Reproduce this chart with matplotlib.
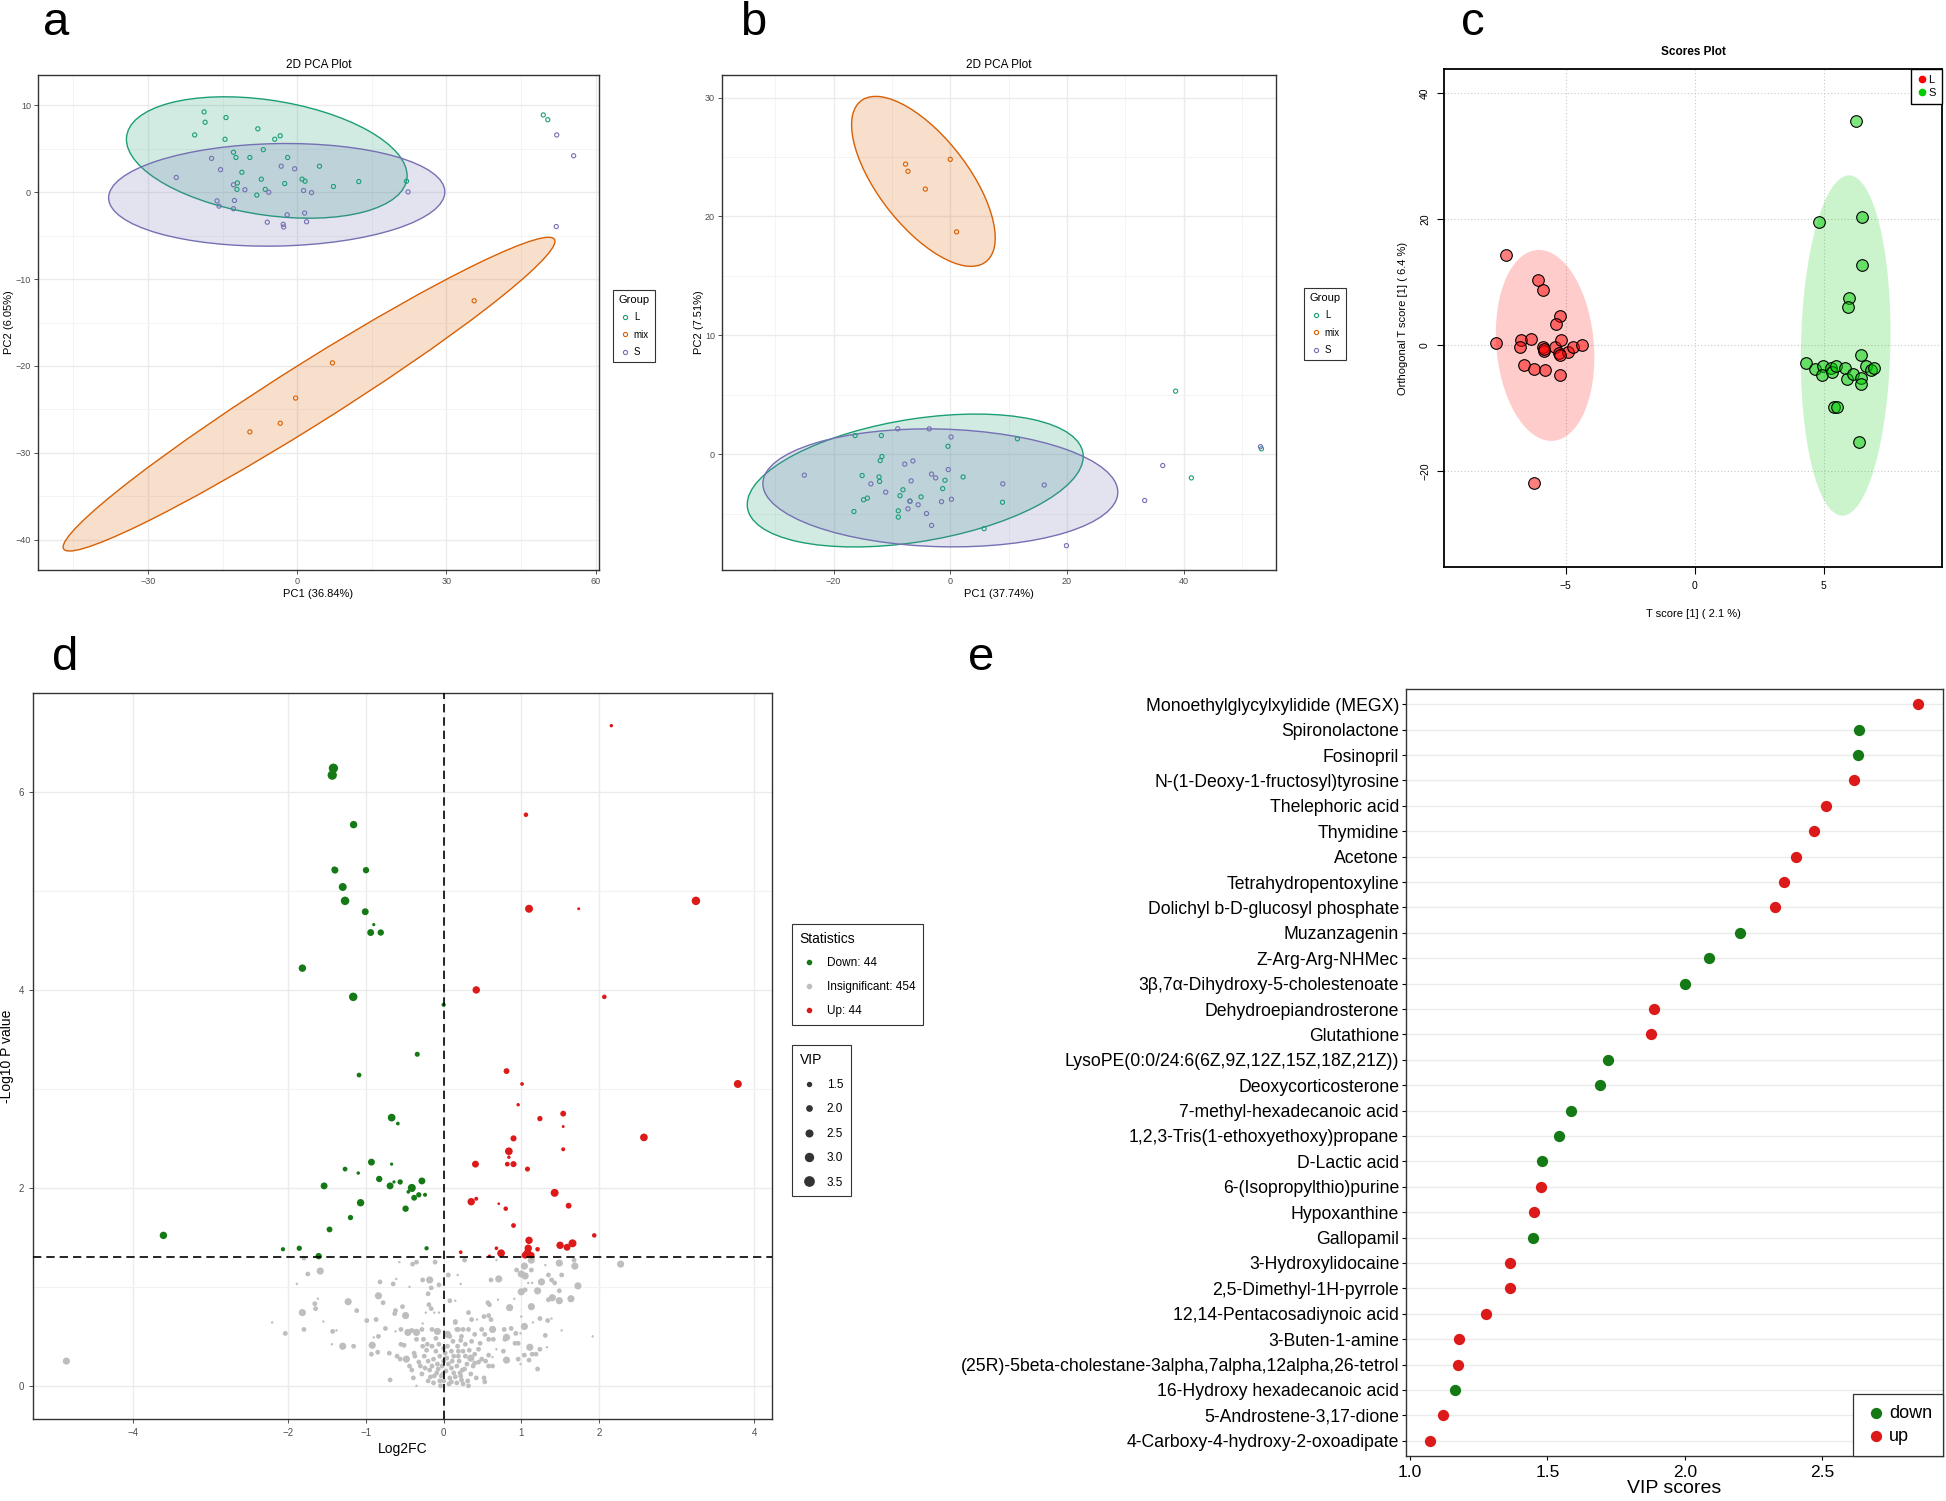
import numpy as np
import matplotlib.pyplot as plt
from matplotlib.patches import Ellipse
from matplotlib.lines import Line2D

plt.rcParams['font.family'] = ['Liberation Sans', 'DejaVu Sans']

W, H = 1946, 1501

# ---------------- data: panel a (PCA, 3 groups) ----------------
a_L_x = [-18.7, -18.5, -14.3, -20.6, -14.5, -7.9, -4.5, -3.4, -6.8, -12.8, -12.3, -9.5, -1.9, -11.1,
         -7.2, -12.0, -12.1, -6.4, -8.1, -2.5, 1.0, 1.6, 4.5, 7.3, 12.4, 22.0, 49.5, 50.4]
a_L_y = [9.25, 8.06, 8.6, 6.6, 6.1, 7.3, 6.1, 6.5, 4.9, 4.6, 4.0, 4.0, 4.0, 2.3,
         1.5, 1.07, 0.33, 0.33, -0.33, 1.0, 1.5, 1.27, 3.0, 0.66, 1.23, 1.27, 8.9, 8.35]
a_S_x = [-24.3, -17.2, -15.4, -12.8, -10.5, -5.7, -3.2, -0.5, 1.3, 2.9, -16.1, -15.7, -12.6, -12.8,
         -2.0, 1.5, -6.0, -2.8, -2.7, 1.9, 22.3, 52.2, 55.6, 52.1]
a_S_y = [1.7, 3.9, 2.6, 0.86, 0.29, 0.0, 3.0, 2.7, 0.2, -0.04, -1.0, -1.6, -0.95, -1.9,
         -2.6, -2.4, -3.45, -3.7, -4.0, -3.4, 0.04, 6.6, 4.2, -3.95]
a_mix_x = [35.6, 7.1, -0.3, -3.4, -9.5]
a_mix_y = [-12.5, -19.65, -23.7, -26.6, -27.6]
# confidence ellipses: centre x, centre y, width, height, angle
a_ell = {'L': (-6.1, 4.0, 56.6, 13.3, -4.5),
         'mix': (2.4, -23.25, 105.0, 7.7, 19.7),
         'S': (-4.1, -0.3, 67.6, 11.8, 0.6)}

# ---------------- data: panel b ----------------
b_L_x = [-16.3, -11.8, -0.4, 11.5, -11.7, -12.0, -15.1, -12.2, -12.1, -0.9, 2.2, -1.3, -8.1, -8.6,
         -5.0, -14.85, -14.2, -6.9, -8.9, -8.9, -16.5, 8.95, 5.8, 38.6, 41.3, 53.3]
b_L_y = [1.56, 1.56, 0.66, 1.29, -0.2, -0.54, -1.8, -1.92, -2.3, -2.2, -1.92, -2.9, -3.0, -3.5,
         -3.6, -3.84, -3.7, -3.96, -4.77, -5.3, -4.83, -4.05, -6.27, 5.3, -2.0, 0.45]
b_S_x = [-9.0, -3.6, 0.14, -25.0, -13.6, -11.05, -7.8, -6.4, -3.2, -2.5, -0.34, -6.7, -6.9, -7.25,
         -5.5, -4.07, -1.5, 0.2, -3.2, 9.0, 16.1, 19.9, 33.3, 36.4, 53.15]
b_S_y = [2.13, 2.13, 1.44, -1.77, -2.5, -3.2, -0.84, -0.57, -1.68, -2.0, -1.3, -2.25, -3.96, -4.6,
         -4.26, -5.0, -4.0, -3.8, -6.0, -2.5, -2.6, -7.7, -3.9, -0.96, 0.63]
b_mix_x = [-7.66, -7.25, 0.0, -4.27, 1.08]
b_mix_y = [24.4, 23.8, 24.8, 22.3, 18.7]
b_ell = {'L': (-6.0, -2.22, 57.7, 10.4, 4.15),
         'mix': (-4.6, 22.95, 26.7, 9.85, -24.7),
         'S': (-1.7, -2.84, 60.8, 9.9, -0.7)}

# ---------------- data: panel c (OPLS-DA scores) ----------------
c_L_x = [-7.33, -6.06, -5.9, -5.21, -5.39, -7.7, -6.75, -6.76, -6.36, -5.9, -5.84, -5.43, -5.25, -5.18,
         -4.92, -4.73, -4.37, -5.24, -6.6, -6.23, -5.81, -5.21, -6.23, -5.85]
c_L_y = [14.35, 10.3, 8.75, 4.6, 3.3, 0.36, 0.8, -0.24, 0.97, -0.24, -0.97, -0.36, -1.2, 0.8,
         -1.15, -0.36, 0.0, -1.5, -3.1, -3.8, -3.9, -4.7, -21.8, -0.6]
c_S_x = [6.25, 4.82, 6.48, 6.47, 5.98, 5.95, 6.46, 4.31, 4.68, 4.97, 4.94, 5.28, 5.34, 5.49,
         5.84, 5.91, 6.15, 6.46, 6.43, 6.64, 6.85, 6.95, 5.41, 5.53, 6.37]
c_S_y = [35.6, 19.5, 20.3, 12.7, 7.5, 6.1, -1.5, -2.86, -3.83, -3.28, -4.74, -3.7, -4.3, -3.34,
         -3.65, -5.3, -4.56, -5.17, -6.14, -3.28, -4.0, -3.6, -9.85, -9.85, -15.4]
c_ell = {'L': (-5.8, -0.05, 3.79, 30.3, 0.92),
         'S': (5.855, -0.07, 3.47, 54.0, -0.27)}

# ---------------- data: panel d (volcano) ----------------
# (log2FC, -log10 p, VIP)
down_pts = [(-1.42, 6.24, 3.5), (-1.435, 6.17, 3.5), (-1.16, 5.67, 2.8), (-1.40, 5.21, 2.6),
            (-1.0, 5.21, 2.4), (-1.30, 5.04, 3.0), (-1.27, 4.90, 3.2), (-1.01, 4.79, 2.6),
            (-0.90, 4.66, 1.2), (-0.94, 4.58, 2.6), (-0.81, 4.58, 2.4), (-1.82, 4.22, 2.8),
            (-1.165, 3.93, 3.2), (0.0, 3.85, 1.6), (-0.34, 3.35, 1.9), (-1.09, 3.14, 1.8),
            (-0.67, 2.71, 2.9), (-0.59, 2.65, 1.4), (-0.93, 2.26, 2.6), (-0.67, 2.24, 1.2),
            (-1.27, 2.19, 1.8), (-1.10, 2.15, 1.3), (-0.83, 2.09, 2.4), (-0.56, 2.06, 2.0),
            (-0.64, 2.06, 1.2), (-0.28, 2.07, 2.6), (-0.41, 2.0, 3.0), (-0.69, 2.02, 2.6),
            (-1.54, 2.02, 2.6), (-0.455, 1.96, 1.4), (-0.32, 1.93, 2.0), (-0.24, 1.93, 1.5),
            (-0.38, 1.90, 2.2), (-1.07, 1.85, 2.8), (-0.49, 1.79, 2.4), (-1.20, 1.70, 2.0),
            (-1.47, 1.58, 2.2), (-3.61, 1.52, 2.8), (-1.86, 1.39, 2.0), (-2.07, 1.38, 1.6),
            (-0.22, 1.39, 1.6), (-1.61, 1.31, 2.4), (-0.40, 1.98, 1.4), (-1.41, 5.22, 2.0)]
up_pts = [(2.16, 6.67, 1.3), (1.06, 5.77, 1.7), (3.25, 4.90, 3.2), (1.10, 4.82, 3.0),
          (1.74, 4.82, 1.1), (0.42, 4.0, 2.8), (2.07, 3.93, 1.7), (3.79, 3.05, 3.0),
          (0.81, 3.18, 2.2), (1.01, 3.05, 1.4), (0.96, 2.84, 1.3), (1.24, 2.70, 2.0),
          (1.54, 2.75, 2.2), (1.54, 2.62, 1.1), (2.58, 2.51, 2.9), (0.90, 2.50, 2.3),
          (0.84, 2.37, 2.9), (1.54, 2.39, 1.5), (0.84, 2.31, 1.3), (0.82, 2.24, 1.8),
          (0.90, 2.24, 2.3), (0.41, 2.24, 2.6), (1.08, 2.19, 1.9), (1.43, 1.95, 3.0),
          (0.42, 1.89, 1.5), (0.355, 1.86, 2.8), (0.71, 1.84, 1.0), (0.80, 1.79, 1.7),
          (1.61, 1.82, 2.2), (0.90, 1.62, 1.8), (1.94, 1.52, 1.7), (1.10, 1.47, 2.8),
          (1.66, 1.44, 3.0), (1.50, 1.42, 2.8), (1.59, 1.40, 2.6), (1.09, 1.39, 2.8),
          (1.21, 1.38, 1.7), (0.68, 1.39, 1.4), (0.22, 1.35, 1.4), (1.08, 1.34, 3.0),
          (0.74, 1.34, 2.9), (1.05, 1.32, 2.6), (1.13, 1.32, 2.4), (0.59, 1.31, 1.3)]
# insignificant: size class s / m / L
insig_pts = [
    (-1.80, 1.29, 'm'), (-1.59, 1.16, 'L'), (-1.75, 1.13, 'm'), (-1.89, 1.03, 's'), (-2.21, 0.64, 's'),
    (-2.04, 0.53, 'm'), (-1.82, 0.74, 'L'), (-1.80, 0.57, 'm'), (-1.66, 0.83, 'm'), (-1.65, 0.78, 'm'),
    (-1.62, 0.88, 's'), (-1.55, 0.65, 's'), (-1.43, 0.55, 'm'), (-1.38, 0.56, 's'), (-1.44, 0.42, 's'),
    (-1.30, 0.40, 'L'), (-1.16, 0.40, 'm'), (-1.23, 0.85, 'L'), (-1.12, 0.76, 'm'), (-0.99, 0.66, 'm'),
    (-0.87, 0.67, 'm'), (-0.84, 0.91, 'L'), (-0.78, 0.84, 'm'), (-0.82, 1.05, 'm'), (-0.65, 1.03, 'm'),
    (-0.61, 1.08, 's'), (-0.44, 1.00, 's'), (-0.57, 1.25, 's'), (-0.40, 1.23, 'm'), (-0.35, 1.25, 'm'),
    (-0.11, 1.25, 'm'), (-0.27, 1.07, 'm'), (-0.18, 1.07, 'L'), (-0.16, 0.99, 'm'), (-0.20, 0.93, 'm'),
    (-0.06, 1.02, 'm'), (0.06, 1.12, 'm'), (-0.62, 0.76, 'm'), (-0.63, 0.73, 'm'), (-0.53, 0.80, 'm'),
    (-0.49, 0.71, 'L'), (-0.23, 0.74, 's'), (-0.19, 0.82, 'm'), (-0.16, 0.78, 'm'), (-0.12, 0.74, 's'),
    (-0.06, 0.74, 's'), (0.08, 0.86, 'm'), (0.15, 0.64, 'm'), (-0.27, 0.63, 's'), (-0.75, 0.58, 'm'),
    (-0.62, 0.55, 's'), (-0.55, 0.57, 'm'), (-0.46, 0.54, 'L'), (-0.41, 0.56, 'm'), (-0.35, 0.54, 'L'),
    (-0.28, 0.57, 'm'), (-0.15, 0.57, 'm'), (-0.08, 0.55, 'L'), (0.05, 0.52, 'L'), (-0.90, 0.49, 's'),
    (-0.84, 0.50, 'm'), (-0.92, 0.41, 'L'), (-0.93, 0.32, 'm'), (-0.85, 0.34, 'm'), (-0.70, 0.33, 'm'),
    (-0.55, 0.42, 'm'), (-0.51, 0.41, 'm'), (-0.60, 0.30, 'm'), (-0.56, 0.27, 'm'), (-0.48, 0.27, 'L'),
    (-0.38, 0.33, 'm'), (-0.35, 0.47, 'm'), (-0.26, 0.47, 'm'), (-0.21, 0.42, 'm'), (-0.15, 0.40, 'm'),
    (-0.41, 0.16, 'm'), (-0.37, 0.30, 'm'), (-0.69, 0.06, 'm'), (-0.39, 0.08, 'm'), (-0.35, 0.0, 's'),
    (-0.30, 0.20, 'm'), (-0.24, 0.18, 'm'), (-0.13, 0.27, 'm'), (-0.18, 0.16, 'm'), (-0.09, 0.13, 'm'),
    (-0.13, 0.03, 'm'), (-0.05, 0.05, 'm'), (-0.02, 0.20, 'm'), (0.13, 0.30, 'm'), (0.13, 0.13, 'm'),
    (0.17, 0.03, 'm'), (0.17, 0.57, 'm'),
    (-0.25, 0.30, 'm'), (-0.2, 0.25, 'm'), (-0.1, 0.35, 'm'), (-0.05, 0.30, 'm'), (0.0, 0.25, 'm'),
    (0.03, 0.15, 'm'), (0.06, 0.22, 'm'), (0.08, 0.08, 'm'), (0.1, 0.35, 'm'), (0.1, 0.18, 'm'),
    (0.2, 0.25, 'm'), (0.22, 0.10, 'm'), (0.25, 0.35, 'm'), (0.25, 0.02, 'm'), (-0.03, 0.10, 'm'),
    (-0.08, 0.22, 'm'), (-0.12, 0.10, 'm'), (-0.2, 0.05, 'm'), (-0.28, 0.12, 'm'), (0.0, 0.05, 'm'),
    (0.05, 0.40, 'm'), (0.3, 0.22, 'm'), (0.35, 0.12, 'm'), (0.28, 0.30, 'm'), (-0.15, 0.20, 'm'),
    (0.12, 0.45, 'm'), (0.02, 0.33, 'm'), (-0.06, 0.42, 'm'), (0.18, 0.40, 'm'), (0.4, 0.32, 'm'),
    (-0.22, 0.36, 'm'), (-0.17, 0.09, 'm'), (-0.07, 0.17, 'm'), (-0.01, 0.12, 'm'), (0.04, 0.28, 'm'),
    (0.07, 0.02, 'm'), (0.11, 0.25, 'm'), (0.15, 0.09, 'm'), (0.19, 0.35, 'm'), (0.24, 0.16, 'm'),
    (0.31, 0.05, 'm'), (0.33, 0.36, 'm'), (0.38, 0.20, 'm'), (0.42, 0.08, 'm'), (0.45, 0.24, 'm'),
    (-0.32, 0.24, 'm'), (-0.27, 0.40, 'm'), (-0.44, 0.20, 'm'), (-0.10, 0.48, 'm'), (0.0, 0.38, 'm'),
    (0.08, 0.50, 'm'), (0.22, 0.46, 'm'), (0.47, 0.43, 'm'), (0.10, 0.04, 'm'), (-0.04, 0.00, 'm'),
    (0.27, 1.27, 'm'), (0.68, 1.27, 's'), (0.94, 1.17, 'm'), (1.04, 1.21, 'L'), (1.13, 1.27, 'L'),
    (1.31, 1.22, 's'), (1.49, 1.24, 'L'), (1.68, 1.27, 'm'), (1.69, 1.21, 'L'), (2.28, 1.23, 'L'),
    (1.0, 1.13, 'L'), (1.05, 1.11, 'L'), (1.13, 1.17, 'm'), (1.35, 1.12, 'm'), (1.52, 1.12, 'm'),
    (1.39, 1.07, 'm'), (1.43, 1.04, 'm'), (1.26, 1.05, 'L'), (1.73, 1.01, 'L'), (0.71, 1.08, 'L'),
    (0.61, 1.07, 'm'), (0.18, 1.12, 's'), (0.22, 1.03, 's'), (1.09, 1.04, 's'), (1.14, 1.04, 's'),
    (1.05, 0.97, 'm'), (1.0, 0.95, 'L'), (1.21, 0.96, 'L'), (1.49, 0.96, 'm'), (1.35, 0.87, 'm'),
    (1.40, 0.89, 'L'), (1.49, 0.86, 'L'), (1.64, 0.88, 'L'), (0.91, 0.88, 's'), (0.70, 0.87, 's'),
    (0.57, 0.84, 'm'), (0.59, 0.82, 'm'), (0.15, 0.86, 's'), (0.85, 0.79, 'L'), (1.13, 0.80, 'L'),
    (0.32, 0.74, 'm'), (0.36, 0.67, 'm'), (0.43, 0.67, 's'), (0.52, 0.70, 'm'), (0.58, 0.71, 'm'),
    (0.61, 0.67, 'm'), (1.0, 0.70, 's'), (1.15, 0.64, 's'), (1.24, 0.68, 'm'), (1.34, 0.66, 'm'),
    (1.39, 0.68, 's'), (1.04, 0.60, 'L'), (0.15, 0.65, 'm'), (0.19, 0.57, 'm'), (0.25, 0.57, 'm'),
    (0.32, 0.57, 'm'), (0.49, 0.57, 'm'), (0.63, 0.57, 'L'), (0.78, 0.57, 'm'), (0.87, 0.58, 'm'),
    (0.93, 0.53, 'm'), (0.99, 0.53, 's'), (0.81, 0.49, 'L'), (0.79, 0.47, 'm'), (0.53, 0.52, 'm'),
    (0.58, 0.47, 'm'), (0.64, 0.47, 'm'), (0.40, 0.52, 'm'), (0.36, 0.45, 'm'), (0.28, 0.42, 'm'),
    (0.23, 0.50, 'm'), (1.31, 0.51, 'm'), (1.52, 0.56, 's'), (1.92, 0.50, 's'), (0.92, 0.43, 'm'),
    (0.96, 0.43, 'm'), (1.11, 0.39, 'L'), (1.24, 0.37, 'm'), (1.33, 0.39, 's'), (1.04, 0.31, 'm'),
    (0.96, 0.27, 'm'), (1.14, 0.32, 'm'), (1.19, 0.32, 'm'), (1.10, 0.26, 'm'), (0.99, 0.22, 's'),
    (1.21, 0.17, 'm'), (0.81, 0.26, 'L'), (0.77, 0.35, 'm'), (0.68, 0.37, 's'), (0.63, 0.29, 's'),
    (0.58, 0.31, 'm'), (0.54, 0.25, 'm'), (0.49, 0.27, 'm'), (0.45, 0.37, 'm'), (0.35, 0.28, 'L'),
    (0.40, 0.23, 'm'), (0.58, 0.20, 'm'), (0.63, 0.20, 'm'), (0.52, 0.08, 'm'), (0.53, 0.04, 'm'),
    (0.32, 0.0, 'm'), (0.23, 0.06, 'm'), (0.27, 0.17, 'm'), (0.19, 0.30, 'm'), (0.17, 0.20, 'm'),
    (0.21, 0.13, 'm'), (-4.86, 0.25, 'L')]
cls_vip = {'s': 0.9, 'm': 1.8, 'L': 2.7}

# ---------------- data: panel e (VIP) ----------------
vip_names = ['Monoethylglycylxylidide (MEGX)', 'Spironolactone', 'Fosinopril',
             'N-(1-Deoxy-1-fructosyl)tyrosine', 'Thelephoric acid', 'Thymidine', 'Acetone',
             'Tetrahydropentoxyline', 'Dolichyl b-D-glucosyl phosphate', 'Muzanzagenin',
             'Z-Arg-Arg-NHMec', '3β,7α-Dihydroxy-5-cholestenoate', 'Dehydroepiandrosterone',
             'Glutathione', 'LysoPE(0:0/24:6(6Z,9Z,12Z,15Z,18Z,21Z))', 'Deoxycorticosterone',
             '7-methyl-hexadecanoic acid', '1,2,3-Tris(1-ethoxyethoxy)propane', 'D-Lactic acid',
             '6-(Isopropylthio)purine', 'Hypoxanthine', 'Gallopamil', '3-Hydroxylidocaine',
             '2,5-Dimethyl-1H-pyrrole', '12,14-Pentacosadiynoic acid', '3-Buten-1-amine',
             '(25R)-5beta-cholestane-3alpha,7alpha,12alpha,26-tetrol', '16-Hydroxy hexadecanoic acid',
             '5-Androstene-3,17-dione', '4-Carboxy-4-hydroxy-2-oxoadipate']
vip_vals = [2.849, 2.633, 2.629, 2.617, 2.514, 2.472, 2.404, 2.361, 2.329, 2.201, 2.088, 2.0,
            1.888, 1.878, 1.721, 1.693, 1.586, 1.542, 1.480, 1.478, 1.452, 1.446, 1.365, 1.363,
            1.275, 1.177, 1.175, 1.163, 1.118, 1.072]
vip_dir = ['up', 'down', 'down', 'up', 'up', 'up', 'up', 'up', 'up', 'down', 'down', 'down',
           'up', 'up', 'down', 'down', 'down', 'down', 'down', 'up', 'up', 'down', 'up', 'up',
           'up', 'up', 'up', 'down', 'up', 'up']

dark2 = {'L': '#1B9E77', 'mix': '#D95F02', 'S': '#7570B3'}
GRID = '#EBEBEB'
TICKC = '#4D4D4D'


def box(l, t, r, b):
    return [l / W, 1 - b / H, (r - l) / W, (b - t) / H]


def vip_size(v):
    d_px = 4 + (v - 1.5) * 2.65
    return (d_px * 0.72) ** 2


fig = plt.figure(figsize=(W / 100, H / 100), dpi=100)


def pca_panel(rect, groups, ells, xlim, ylim, xmaj, xmin, ymaj, ymin, xlab, ylab, leg_xy):
    ax = fig.add_axes(rect)
    ax.set_xlim(*xlim)
    ax.set_ylim(*ylim)
    ax.set_xticks(xmaj)
    ax.set_xticks(xmin, minor=True)
    ax.set_yticks(ymaj)
    ax.set_yticks(ymin, minor=True)
    ax.grid(True, which='major', color=GRID, lw=1.0)
    ax.grid(True, which='minor', color='#F4F4F4', lw=0.7)
    ax.set_axisbelow(True)
    ax.tick_params(which='major', labelsize=6.5, labelcolor=TICKC, color='#333333', length=3,
                   width=0.6, pad=2)
    ax.tick_params(which='minor', length=0)
    for s in ax.spines.values():
        s.set_color('#333333')
        s.set_linewidth(1.0)
    for g in ['L', 'mix', 'S']:
        cx, cy, w, h, ang = ells[g]
        ax.add_patch(Ellipse((cx, cy), w, h, angle=ang, facecolor=dark2[g], alpha=0.2, lw=0))
        ax.add_patch(Ellipse((cx, cy), w, h, angle=ang, facecolor='none', edgecolor=dark2[g], lw=1.0))
    for g in ['L', 'mix', 'S']:
        xs, ys = groups[g]
        ax.scatter(xs, ys, s=9, facecolors='none', edgecolors=dark2[g], linewidths=0.8, zorder=3)
    ax.set_title('2D PCA Plot', fontsize=8.5, pad=5)
    ax.set_xlabel(xlab, fontsize=8, labelpad=2)
    ax.set_ylabel(ylab, fontsize=8, labelpad=1)
    handles = [Line2D([], [], ls='none', marker='o', mfc='none', mec=dark2[g], ms=3, mew=0.8, label=g)
               for g in ['L', 'mix', 'S']]
    leg = ax.legend(handles=handles, title='Group', loc='upper left',
                    bbox_to_anchor=(leg_xy[0] / W, 1 - leg_xy[1] / H), bbox_transform=fig.transFigure,
                    fontsize=7, title_fontsize=8, fancybox=False, edgecolor='#333333',
                    handletextpad=0.3, handlelength=1.3, borderpad=0.55, labelspacing=0.75, framealpha=1)
    leg.get_frame().set_linewidth(0.8)
    leg._legend_box.align = 'left'
    return ax


# ---- panel a
pca_panel(box(38, 75, 599, 570),
          {'L': (a_L_x, a_L_y), 'mix': (a_mix_x, a_mix_y), 'S': (a_S_x, a_S_y)}, a_ell,
          (-52.1, 60.7), (-43.5, 13.5), [-30, 0, 30, 60], [-45, -15, 15, 45],
          [-40, -30, -20, -10, 0, 10], [-35, -25, -15, -5, 5],
          'PC1 (36.84%)', 'PC2 (6.05%)', (608, 285))

# ---- panel b
pca_panel(box(722, 75, 1276, 570),
          {'L': (b_L_x, b_L_y), 'mix': (b_mix_x, b_mix_y), 'S': (b_S_x, b_S_y)}, b_ell,
          (-39.1, 55.8), (-9.75, 31.9), [-20, 0, 20, 40], [-30, -10, 10, 30, 50],
          [0, 10, 20, 30], [-5, 5, 15, 25],
          'PC1 (37.74%)', 'PC2 (7.51%)', (1299, 283))

# ---- panel c
axc = fig.add_axes(box(1444, 69, 1942, 567))
axc.set_xlim(-9.72, 9.59)
axc.set_ylim(-35.2, 43.8)
axc.set_xticks([-5, 0, 5])
axc.set_yticks([-20, 0, 20, 40])
axc.grid(True, color='#C8C8C8', ls=(0, (1, 2)), lw=0.8)
axc.set_axisbelow(True)
for s in axc.spines.values():
    s.set_linewidth(1.3)
axc.tick_params(labelsize=7.5, length=5, width=0.8, pad=5)
for lab in axc.get_yticklabels():
    lab.set_rotation(90)
    lab.set_va('center')
cols_c = {'L': (1, 0, 0), 'S': (0, 0.8, 0)}
for g in ['L', 'S']:
    cx, cy, w, h, ang = c_ell[g]
    axc.add_patch(Ellipse((cx, cy), w, h, angle=ang, facecolor=cols_c[g], alpha=0.2, lw=0))
axc.scatter(c_L_x, c_L_y, s=70, facecolor=(1, 0, 0, 0.5), edgecolor='black', linewidths=0.8, zorder=3)
axc.scatter(c_S_x, c_S_y, s=70, facecolor=(0, 0.8, 0, 0.5), edgecolor='black', linewidths=0.8, zorder=3)
axc.set_title('Scores Plot', fontsize=8.5, fontweight='bold', pad=10)
axc.set_xlabel('T score [1] ( 2.1 %)', fontsize=8, labelpad=13)
axc.set_ylabel('Orthogonal T score [1] ( 6.4 %)', fontsize=8, labelpad=9)
hc = [Line2D([], [], ls='none', marker='o', color='red', ms=4.5, label='L'),
      Line2D([], [], ls='none', marker='o', color='#00CC00', ms=4.5, label='S')]
legc = axc.legend(handles=hc, loc='upper right', fontsize=8, fancybox=False, edgecolor='black',
                  handletextpad=0.2, handlelength=0.8, borderpad=0.55, labelspacing=0.25,
                  borderaxespad=0, framealpha=1)
legc.get_frame().set_linewidth(1.0)

# ---- panel d
axd = fig.add_axes(box(33, 693, 772, 1419))
axd.set_xlim(-5.29, 4.23)
axd.set_ylim(-0.335, 7.0)
axd.set_xticks([-4, -2, -1, 0, 1, 2, 4])
axd.set_yticks([0, 2, 4, 6])
axd.set_yticks([1, 3, 5], minor=True)
axd.grid(True, which='major', color=GRID, lw=1.0)
axd.grid(True, which='minor', axis='y', color='#F2F2F2', lw=0.8)
axd.set_axisbelow(True)
axd.tick_params(which='major', labelsize=7, labelcolor=TICKC, color='#333333', length=3, width=0.6)
axd.tick_params(which='minor', length=0)
for s in axd.spines.values():
    s.set_color('#333333')
    s.set_linewidth(1.0)
gx, gy, gv = zip(*insig_pts)
axd.scatter(gx, gy, s=[vip_size(cls_vip[c]) for c in gv], color='#BEBEBE', lw=0, zorder=2)
dx, dy, dv = zip(*down_pts)
axd.scatter(dx, dy, s=[vip_size(v) for v in dv], color='#157A15', lw=0, zorder=3)
ux, uy, uv = zip(*up_pts)
axd.scatter(ux, uy, s=[vip_size(v) for v in uv], color='#DD1A1A', lw=0, zorder=3)
axd.axvline(0, color='black', ls=(0, (5, 3)), lw=1.2, zorder=4)
axd.axhline(-np.log10(0.05), color='black', ls=(0, (5, 3)), lw=1.2, zorder=4)
axd.set_xlabel('Log2FC', fontsize=10, labelpad=3)
axd.set_ylabel('-Log10 P value', fontsize=10, labelpad=3)
hs = [Line2D([], [], ls='none', marker='o', color='#157A15', ms=3, label='Down: 44'),
      Line2D([], [], ls='none', marker='o', color='#BEBEBE', ms=3, label='Insignificant: 454'),
      Line2D([], [], ls='none', marker='o', color='#DD1A1A', ms=3, label='Up: 44')]
leg1 = axd.legend(handles=hs, title='Statistics', loc='upper left',
                  bbox_to_anchor=(786 / W, 1 - 918 / H), bbox_transform=fig.transFigure,
                  fontsize=8.5, title_fontsize=10, fancybox=False, edgecolor='#333333',
                  handletextpad=0.7, handlelength=1.6, borderpad=0.65, labelspacing=1.0, framealpha=1)
leg1._legend_box.align = 'left'
leg1.get_frame().set_linewidth(0.8)
axd.add_artist(leg1)
vip_levels = [1.5, 2.0, 2.5, 3.0, 3.5]
hv = [Line2D([], [], ls='none', marker='o', color='#333333', ms=np.sqrt(vip_size(v)), label='%.1f' % v)
      for v in vip_levels]
leg2 = axd.legend(handles=hv, title='VIP', loc='upper left',
                  bbox_to_anchor=(786 / W, 1 - 1039 / H), bbox_transform=fig.transFigure,
                  fontsize=8.5, title_fontsize=10, fancybox=False, edgecolor='#333333',
                  handletextpad=0.7, handlelength=1.6, borderpad=0.65, labelspacing=1.05, framealpha=1)
leg2._legend_box.align = 'left'
leg2.get_frame().set_linewidth(0.8)

# ---- panel e
axe = fig.add_axes(box(1406, 689, 1943, 1456))
ypos = np.arange(len(vip_names))[::-1]
cols_e = {'down': '#157A15', 'up': '#DD1A1A'}
for g in ['down', 'up']:
    idx = [i for i, d in enumerate(vip_dir) if d == g]
    axe.scatter([vip_vals[i] for i in idx], [ypos[i] for i in idx], s=66, color=cols_e[g],
                lw=0, zorder=3, label=g)
axe.set_yticks(ypos)
axe.set_yticklabels(vip_names, fontsize=12.7)
axe.set_ylim(-0.6, len(vip_names) - 0.4)
axe.set_xlim(0.985, 2.94)
axe.set_xticks([1.0, 1.5, 2.0, 2.5])
axe.tick_params(axis='x', labelsize=12.5, length=3)
axe.tick_params(axis='y', length=3, pad=2)
axe.grid(True, axis='y', color=GRID, lw=1.0)
axe.set_axisbelow(True)
for s in axe.spines.values():
    s.set_color('#333333')
    s.set_linewidth(1.0)
axe.set_xlabel('VIP scores', fontsize=14, labelpad=0)
lege = axe.legend(loc='lower right', fontsize=13, fancybox=False, edgecolor='#333333',
                  handletextpad=0.1, handlelength=1.3, borderpad=0.6, labelspacing=0.35,
                  borderaxespad=0, framealpha=1)
lege.get_frame().set_linewidth(0.9)

# ---- panel letters
for lab, x, y in [('a', 43, 35), ('b', 740, 35), ('c', 1461, 35), ('d', 52, 670), ('e', 968, 670)]:
    fig.text(x / W, 1 - y / H, lab, fontsize=34, va='baseline', ha='left')

fig.savefig('out.png', dpi=100)
